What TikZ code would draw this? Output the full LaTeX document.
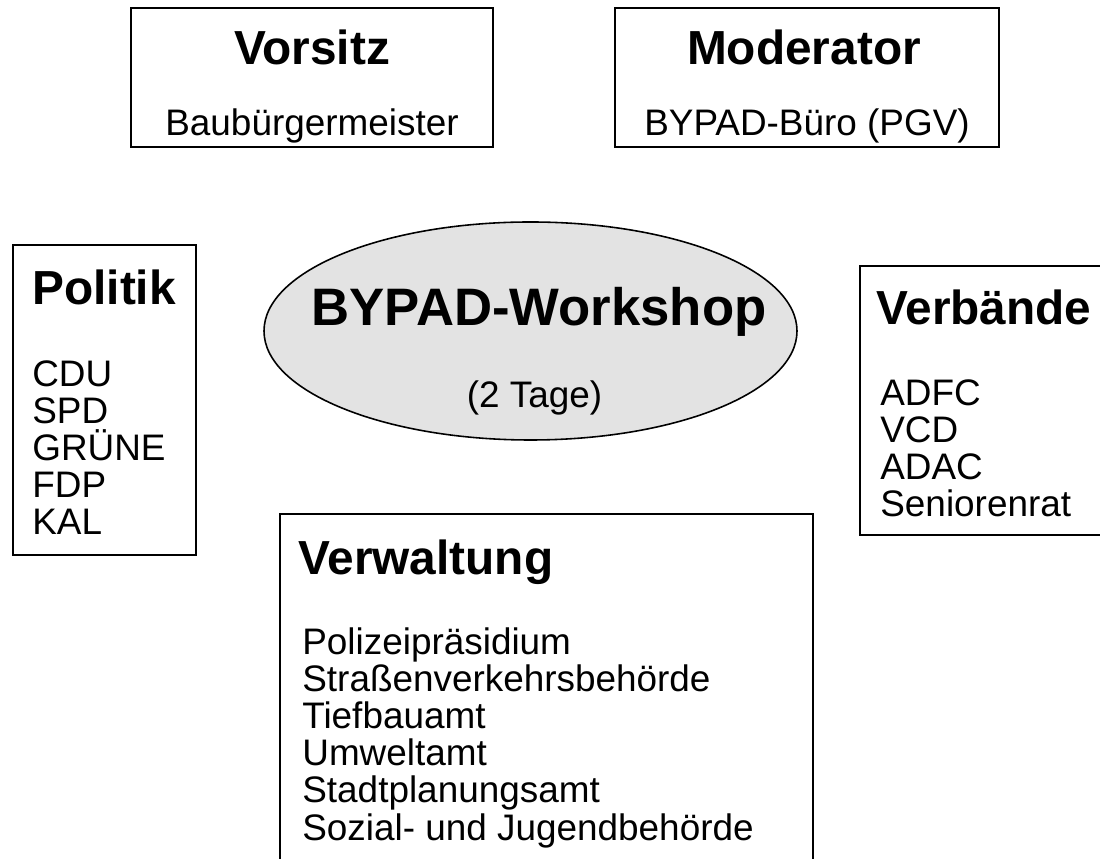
\documentclass[tikz,border=0pt]{standalone}
\usepackage{fontspec}
\setmainfont{Liberation Sans}
\usetikzlibrary{shapes.geometric}
\definecolor{ovalgray}{gray}{0.89}
\tikzset{
    box/.style={draw, line width=0.9pt, rectangle, inner sep=0pt},
    head/.style={font=\bfseries\fontsize{27.2}{28}\selectfont, inner sep=0pt},
    bighead/.style={font=\bfseries\fontsize{30}{32}\selectfont, inner sep=0pt},
    item/.style={font=\fontsize{21}{21}\selectfont, inner sep=0pt}
}
\begin{document}
\begin{tikzpicture}
            \useasboundingbox (0,0) rectangle (22,17.18);
            \clip (0,0) rectangle (22,17.18);
            \node[box, minimum width=7.24cm, minimum height=2.78cm] (vorsitz) at (6.24,15.63) {};
            \node[box, minimum width=7.68cm, minimum height=2.78cm] (moderator) at (16.14,15.63) {};
            \node[box, minimum width=3.66cm, minimum height=6.2cm] (politik) at (2.09,9.18) {};
            \node[box, minimum width=5.0cm, minimum height=5.38cm] (verbaende) at (19.7,9.17) {};
            \node[box, minimum width=10.66cm, minimum height=7.12cm] (verwaltung) at (10.93,3.34) {};
            \node[draw, ellipse, line width=0.9pt, fill=ovalgray, minimum width=10.66cm,
                minimum height=4.36cm, inner sep=0pt] (workshop) at (10.61,10.56) {};
            \node[head, anchor=base] (vorsitztitle) at (6.24,15.88) {Vorsitz};
            \node[item, anchor=base] (vorsitzname) at (6.24,14.46) {Baubürgermeister};
            \node[head, anchor=base] (moderatortitle) at (16.08,15.88) {Moderator};
            \node[item, anchor=base] (moderatorname) at (16.14,14.46) {BYPAD-Büro (PGV)};
            \node[bighead, anchor=base] (workshoptitle) at (10.78,10.66) {BYPAD-Workshop};
            \node[item, anchor=base] (workshopdays) at (10.69,9.02) {(2 Tage)};
            \node[head, anchor=base west] (politiktitle) at (0.64,11.08) {Politik};
            \foreach \p [count=\i] in {CDU,SPD,GRÜNE,FDP,KAL}{
                \node[item, anchor=base west] (partei\i) at (0.64,{9.44-0.74*(\i-1)}) {\p};
            }
            \node[head, anchor=base west] (verbaendetitle) at (17.52,10.68) {Verbände};
            \foreach \v [count=\i] in {ADFC,VCD,ADAC,Seniorenrat}{
                \node[item, anchor=base west] (verband\i) at (17.6,{9.06-0.74*(\i-1)}) {\v};
            }
            \node[head, anchor=base west] (verwaltungtitle) at (5.96,5.68) {Verwaltung};
            \foreach \a [count=\i] in {Polizeipräsidium,Straßenverkehrsbehörde,Tiefbauamt,
                Umweltamt,Stadtplanungsamt,Sozial- und Jugendbehörde}{
                \node[item, anchor=base west] (amt\i) at (6.04,{4.08-0.74*(\i-1)}) {\a};
            }
        \end{tikzpicture}
\end{document}
